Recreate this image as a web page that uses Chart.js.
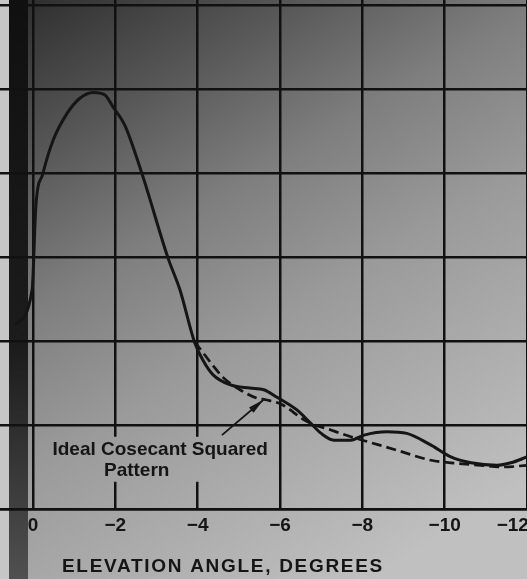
<!DOCTYPE html>
<html>
<head>
<meta charset="utf-8">
<script src="https://cdn.jsdelivr.net/npm/chart.js@4.4.1/dist/chart.umd.min.js"></script>
<style>
  html, body { margin: 0; padding: 0; background: #b4b4b4; }
  #wrap { width: 527px; height: 579px; }
</style>
</head>
<body>
<div id="wrap"><canvas id="antennaPattern"></canvas></div>
<script>
// measured beam pattern (elevation angle in degrees, relative level)
const measuredAngle = [0.44, 0.02, -0.07, -0.24, -0.49, -0.83, -1.14, -1.46, -1.75, -1.94, -2.23, -2.65,
  -3.28, -3.57, -3.93, -4.13, -4.37, -4.78, -5.27, -5.61, -5.93, -6.41, -6.75, -7.0, -7.31, -7.72,
  -8.04, -8.6, -9.08, -9.67, -10.15, -10.64, -11.27, -11.61, -12.0];
const measuredLevel = [2.19, 2.61, 3.6, 3.99, 4.39, 4.71, 4.89, 4.96, 4.93, 4.79, 4.57, 3.99,
  2.99, 2.61, 1.98, 1.77, 1.6, 1.48, 1.44, 1.42, 1.33, 1.18, 1.02, 0.9, 0.82, 0.82,
  0.88, 0.92, 0.9, 0.76, 0.62, 0.55, 0.52, 0.55, 0.62];

// ideal cosecant squared pattern (dashed)
const idealAngle = [-3.93, -4.18, -4.37, -4.61, -5.03, -5.44, -5.65, -6.02, -6.66, -7.24, -7.72,
  -8.21, -8.84, -9.67, -10.15, -10.88, -11.44, -12.0];
const idealLevel = [1.99, 1.83, 1.71, 1.57, 1.42, 1.32, 1.3, 1.25, 1.04, 0.94, 0.86,
  0.79, 0.7, 0.58, 0.55, 0.52, 0.5, 0.52];

const angleTicks = [0, -2, -4, -6, -8, -10, -12];
const axisTitle = 'ELEVATION ANGLE, DEGREES';
const noteLines = ['Ideal Cosecant Squared', 'Pattern'];

const ink = '#151515';
const fontFamily = "'Liberation Sans', Arial, sans-serif";

let paper;
function paperFill(ctx) {
  const g = ctx.createLinearGradient(20, 0, 370, 580);
  g.addColorStop(0, '#2e2e2e');
  g.addColorStop(0.2, '#555555');
  g.addColorStop(0.4, '#7e7e7e');
  g.addColorStop(0.6, '#9a9a9a');
  g.addColorStop(1, '#c0c0c0');
  return g;
}

const scanPlugin = {
  id: 'scan',
  beforeDraw(chart) {
    const ctx = chart.ctx;
    ctx.save();
    paper = paperFill(ctx);
    ctx.fillStyle = paper;
    ctx.fillRect(0, 0, chart.width, chart.height);
    // binding shadow on the left edge
    ctx.fillStyle = '#c6c6c6';
    ctx.fillRect(0, 0, 9, chart.height);
    const s = ctx.createLinearGradient(0, 0, 0, chart.height);
    s.addColorStop(0, '#101010');
    s.addColorStop(0.6, '#1c1c1c');
    s.addColorStop(1, '#505050');
    ctx.fillStyle = s;
    ctx.fillRect(9, 0, 19, chart.height);
    ctx.restore();
  },
  afterDraw(chart) {
    const ctx = chart.ctx;
    const x = chart.scales.x, y = chart.scales.y;
    ctx.save();
    // label box hides the grid behind the note
    ctx.fillStyle = paper;
    ctx.fillRect(x.getPixelForValue(-0.3), y.getPixelForValue(0.86), 228, 45);
    ctx.fillStyle = ink;
    ctx.font = 'bold 19px ' + fontFamily;
    ctx.textAlign = 'center';
    ctx.textBaseline = 'middle';
    ctx.fillText(noteLines[0], x.getPixelForValue(-3.09), y.getPixelForValue(0.7));
    ctx.fillText(noteLines[1], x.getPixelForValue(-2.52), y.getPixelForValue(0.46));
    // arrow to the dashed curve
    const x0 = x.getPixelForValue(-4.59), y0 = y.getPixelForValue(0.88);
    const x1 = x.getPixelForValue(-5.6), y1 = y.getPixelForValue(1.3);
    ctx.strokeStyle = ink;
    ctx.lineWidth = 1.8;
    ctx.beginPath();
    ctx.moveTo(x0, y0);
    ctx.lineTo(x1, y1);
    ctx.stroke();
    const a = Math.atan2(y1 - y0, x1 - x0);
    ctx.beginPath();
    ctx.moveTo(x1, y1);
    ctx.lineTo(x1 - 16 * Math.cos(a) - 3.5 * Math.sin(a), y1 - 16 * Math.sin(a) + 3.5 * Math.cos(a));
    ctx.lineTo(x1 - 16 * Math.cos(a) + 3.5 * Math.sin(a), y1 - 16 * Math.sin(a) - 3.5 * Math.cos(a));
    ctx.closePath();
    ctx.fill();
    // axis title
    ctx.font = 'bold 19px ' + fontFamily;
    ctx.letterSpacing = '1.7px';
    ctx.textAlign = 'left';
    ctx.fillText(axisTitle, 62, 567);
    ctx.restore();
  }
};

new Chart(document.getElementById('antennaPattern'), {
  type: 'line',
  data: {
    datasets: [
      {
        label: 'Measured',
        data: measuredAngle.map((a, i) => ({ x: a, y: measuredLevel[i] })),
        borderColor: ink,
        borderWidth: 3,
        pointRadius: 0,
        cubicInterpolationMode: 'monotone',
        fill: false,
      },
      {
        label: noteLines.join(' '),
        data: idealAngle.map((a, i) => ({ x: a, y: idealLevel[i] })),
        borderColor: ink,
        borderWidth: 2.7,
        borderDash: [10, 5],
        pointRadius: 0,
        cubicInterpolationMode: 'monotone',
        fill: false,
      },
    ],
  },
  options: {
    responsive: true,
    maintainAspectRatio: false,
    animation: false,
    devicePixelRatio: 1,
    layout: { padding: 0 },
    plugins: { legend: { display: false }, tooltip: { enabled: false } },
    scales: {
      x: {
        type: 'linear',
        reverse: true,
        min: -12,
        max: 0.8,
        afterBuildTicks: (s) => { s.ticks = angleTicks.map((v) => ({ value: v })); },
        afterFit: (s) => { s.height = 70; s.paddingLeft = 0; s.paddingRight = 0; },
        ticks: {
          maxRotation: 0,
          autoSkip: false,
          padding: 5,
          color: ink,
          font: { family: fontFamily, size: 19, weight: 'bold' },
          // the edge label sits a little inside the page, as in the scan
          callback: (v) => (v === 0 ? '0' : '\u2212' + Math.abs(v) + (v === -12 ? '\u2002\u2002\u2002' : '')),
        },
        grid: { color: '#111', lineWidth: 2.5, drawTicks: false },
        border: { display: true, color: '#111', width: 2.5 },
      },
      y: {
        min: 0,
        max: 6.06,
        afterBuildTicks: (s) => { s.ticks = [0, 1, 2, 3, 4, 5, 6].map((v) => ({ value: v })); },
        afterFit: (s) => { s.width = 0; s.paddingTop = 0; s.paddingBottom = 0; },
        ticks: { display: false },
        grid: { color: '#111', lineWidth: 2.5, drawTicks: false },
        border: { display: false },
      },
    },
  },
  plugins: [scanPlugin],
});
</script>
</body>
</html>
